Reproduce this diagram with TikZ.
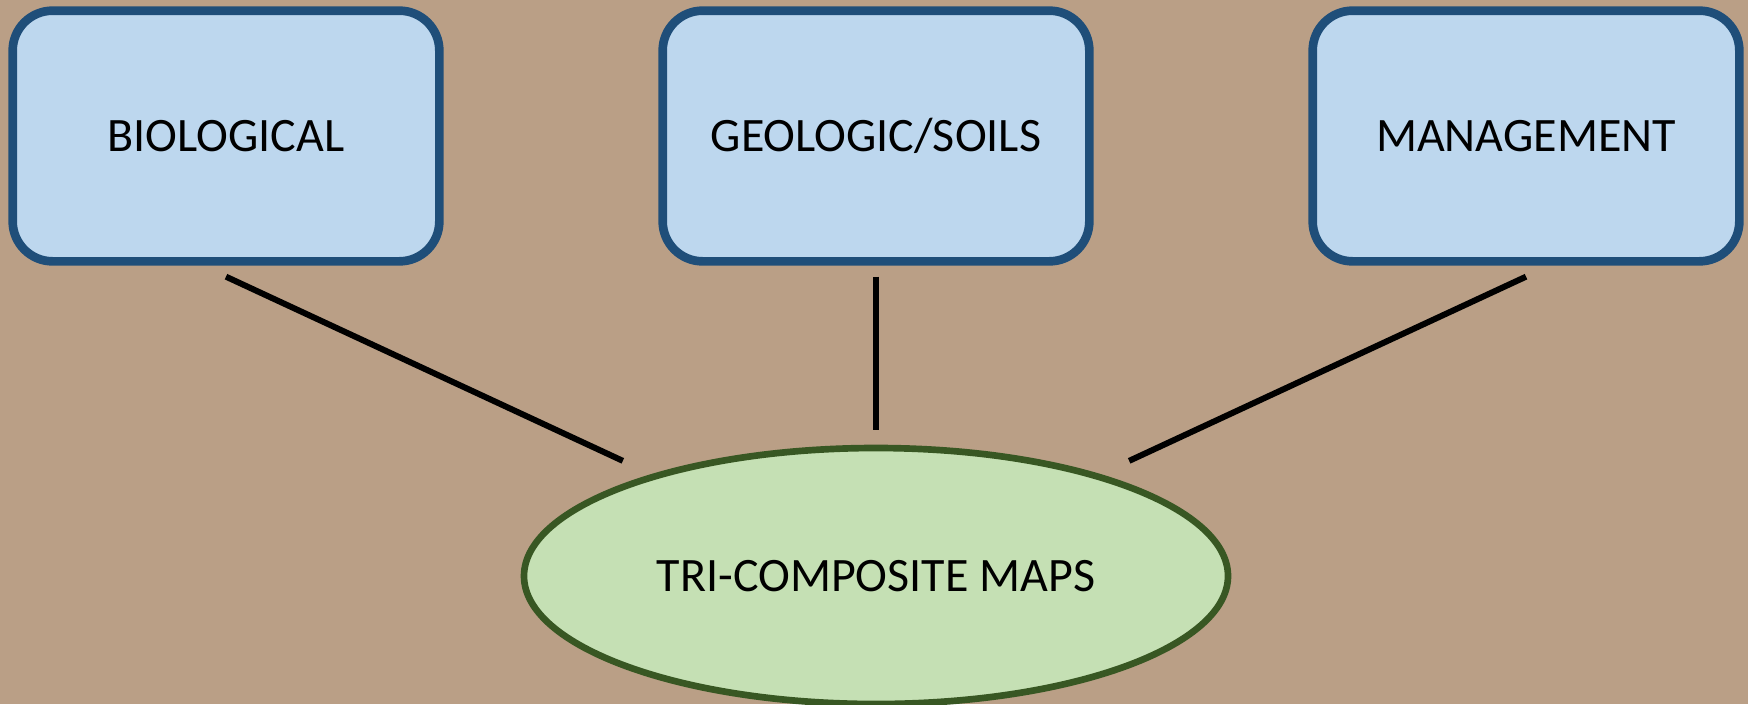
\documentclass[tikz,border=0pt]{standalone}
\usepackage{fontspec}
\setmainfont{Carlito}
\usetikzlibrary{shapes.geometric}

\definecolor{bgTan}{RGB}{186,159,134}
\definecolor{boxFill}{RGB}{189,215,238}
\definecolor{boxLine}{RGB}{31,78,121}
\definecolor{ovalFill}{RGB}{197,224,180}
\definecolor{ovalLine}{RGB}{56,87,35}

\tikzset{every picture/.style={line width=0.75pt}}

\begin{document}
\begin{tikzpicture}[x=0.75pt,y=0.75pt,yscale=-1,xscale=1,
	box/.style={draw=boxLine,fill=boxFill,line width=6.5pt,rounded corners=30pt,minimum width=320pt,minimum height=188pt,inner sep=0pt,font=\fontsize{36}{43}\selectfont},
	oval/.style={ellipse,draw=ovalLine,fill=ovalFill,line width=5pt,minimum width=528pt,minimum height=192pt,inner sep=0pt,font=\fontsize{36}{43}\selectfont},
	link/.style={draw=black,line width=4.5pt}]
	%set diagram to 1748 x 704
	\useasboundingbox (0,0) rectangle (1748,704);
	%Shape: Rectangle [id:background]
	\fill [bgTan] (0,0) rectangle (1748,704);
	
	%Rounded Rect [id:bio]
	\node [box] (bio) at (226,136) {BIOLOGICAL};
	%Rounded Rect [id:geo]
	\node [box] (geo) at (876,136) {GEOLOGIC/SOILS};
	%Rounded Rect [id:mgmt]
	\node [box] (mgmt) at (1526,136) {MANAGEMENT};
	%Shape: Ellipse [id:maps]
	\node [oval] (maps) at (876,576) {TRI-COMPOSITE MAPS};
	
	%Straight Lines [id:bio-maps]
	\draw [link] ([yshift=8.25pt]bio.south) -- ([yshift=-17.25pt]maps.160) ;
	%Straight Lines [id:geo-maps]
	\draw [link] ([yshift=8.25pt]geo.south) -- ([yshift=-11.25pt]maps.north) ;
	%Straight Lines [id:mgmt-maps]
	\draw [link] ([yshift=8.25pt]mgmt.south) -- ([yshift=-17.25pt]maps.20) ;
	
\end{tikzpicture}
\end{document}
